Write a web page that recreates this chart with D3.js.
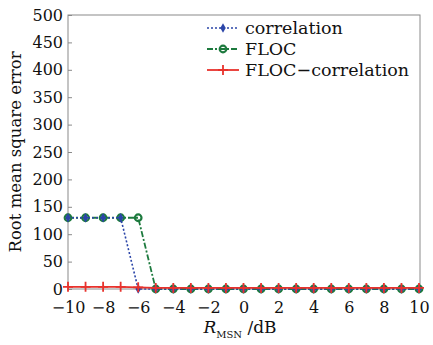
<!DOCTYPE html>
<html>
<head>
<meta charset="utf-8">
<script src="https://cdn.jsdelivr.net/npm/d3@7"></script>
<style>
  body { margin: 0; background: #fff; }
  svg text { font-family: "DejaVu Serif", "Liberation Serif", serif; }
</style>
</head>
<body>
<div id="chart"></div>
<script>
// R_MSN values (dB)
const xValues = [-10, -9, -8, -7, -6, -5, -4, -3, -2, -1, 0, 1, 2, 3, 4, 5, 6, 7, 8, 9, 10];
const correlation = [130, 130, 130, 130, 0, 0, 0, 0, 0, 0, 0, 0, 0, 0, 0, 0, 0, 0, 0, 0, 0];
const floc = [130, 130, 130, 130, 130, 0, 0, 0, 0, 0, 0, 0, 0, 0, 0, 0, 0, 0, 0, 0, 0];
const flocCorrelation = [4, 4, 4, 4, 3, 2, 2, 2, 2, 2, 2, 2, 2, 2, 2, 2, 2, 2, 2, 2, 2];
const xTicks = [-10, -8, -6, -4, -2, 0, 2, 4, 6, 8, 10];
const yTicks = [0, 50, 100, 150, 200, 250, 300, 350, 400, 450, 500];

const width = 433, height = 345;
const margin = { top: 15, right: 13, bottom: 56, left: 68 };

const svg = d3.select("#chart").append("svg")
    .attr("width", width)
    .attr("height", height);

const x = d3.scaleLinear().domain([-10, 10]).range([margin.left, width - margin.right - 1]);
const y = d3.scaleLinear().domain([0, 500]).range([height - margin.bottom, margin.top]);

const fmt = d => (d < 0 ? "\u2212" + Math.abs(d) : String(d));

// frame
svg.append("rect")
    .attr("x", margin.left)
    .attr("y", margin.top)
    .attr("width", width - margin.left - margin.right)
    .attr("height", height - margin.top - margin.bottom)
    .attr("fill", "none")
    .attr("stroke", "#8a8a8a")
    .attr("stroke-width", 1);

// y axis, ticks pointing inward
const yAxis = svg.append("g")
    .attr("transform", `translate(${margin.left},0)`)
    .call(d3.axisLeft(y).tickValues(yTicks).tickSize(-4).tickPadding(5));
yAxis.select(".domain").remove();
yAxis.selectAll("line").attr("stroke", "#8a8a8a");
yAxis.selectAll("text").attr("font-size", 16).attr("fill", "#111")
    .attr("font-family", "DejaVu Serif, serif");

// x axis
const xAxis = svg.append("g")
    .attr("transform", `translate(0,${height - margin.bottom})`)
    .call(d3.axisBottom(x).tickValues(xTicks).tickFormat(fmt).tickSize(-4).tickPadding(13));
xAxis.select(".domain").remove();
xAxis.selectAll("line").attr("stroke", "#8a8a8a");
xAxis.selectAll("text").attr("font-size", 16).attr("fill", "#111")
    .attr("font-family", "DejaVu Serif, serif");

// axis titles
svg.append("text")
    .attr("transform", `translate(21,${(margin.top + height - margin.bottom) / 2}) rotate(-90)`)
    .attr("text-anchor", "middle")
    .attr("font-size", 16.5)
    .attr("fill", "#111")
    .text("Root mean square error");

const xt = svg.append("text")
    .attr("x", 240)
    .attr("y", 333)
    .attr("text-anchor", "middle")
    .attr("font-size", 17)
    .attr("fill", "#111");
xt.append("tspan").attr("font-style", "italic").text("R");
xt.append("tspan").attr("font-size", 10).attr("dy", 5).text("MSN");
xt.append("tspan").attr("dy", -5).text(" /dB");

const series = [
    { name: "correlation", values: correlation, color: "#2b45a8", dash: "2,2", marker: "diamond", width: 1.6 },
    { name: "FLOC", values: floc, color: "#1d7a3e", dash: "6,2,2,2", marker: "circle", width: 1.8 },
    { name: "FLOC\u2212correlation", values: flocCorrelation, color: "#e8322c", dash: null, marker: "plus", width: 1.8 }
];

const line = d3.line().x((d, i) => x(xValues[i])).y(d => y(d));

function drawMarker(g, type, cx, cy, color) {
    if (type === "circle") {
        g.append("circle").attr("cx", cx).attr("cy", cy).attr("r", 3.3)
            .attr("fill", "none").attr("stroke", color).attr("stroke-width", 2.2);
    } else if (type === "diamond") {
        g.append("path").attr("d", d3.symbol(d3.symbolDiamond, 26)())
            .attr("transform", `translate(${cx},${cy})`).attr("fill", color);
    } else {
        g.append("path").attr("d", `M${cx - 5},${cy}H${cx + 5}M${cx},${cy - 5}V${cy + 5}`)
            .attr("stroke", color).attr("stroke-width", 1.8);
    }
}

// draw order: FLOC beneath, correlation over it, red on top
const drawOrder = [series[1], series[0], series[2]];
drawOrder.forEach(s => {
    const g = svg.append("g");
    g.append("path")
        .datum(s.values)
        .attr("d", line)
        .attr("fill", "none")
        .attr("stroke", s.color)
        .attr("stroke-width", s.width)
        .attr("stroke-dasharray", s.dash);
    s.values.forEach((v, i) => drawMarker(g, s.marker, x(xValues[i]), y(v), s.color));
});

// legend
const legend = svg.append("g");
series.forEach((s, i) => {
    const ly = 28 + i * 21;
    legend.append("line")
        .attr("x1", 207).attr("x2", 239).attr("y1", ly).attr("y2", ly)
        .attr("stroke", s.color).attr("stroke-width", s.width)
        .attr("stroke-dasharray", s.dash);
    drawMarker(legend, s.marker, 223, ly, s.color);
    legend.append("text")
        .attr("x", 245).attr("y", ly + 6)
        .attr("font-size", 17.5)
        .attr("fill", "#111")
        .text(s.name);
});
</script>
</body>
</html>
